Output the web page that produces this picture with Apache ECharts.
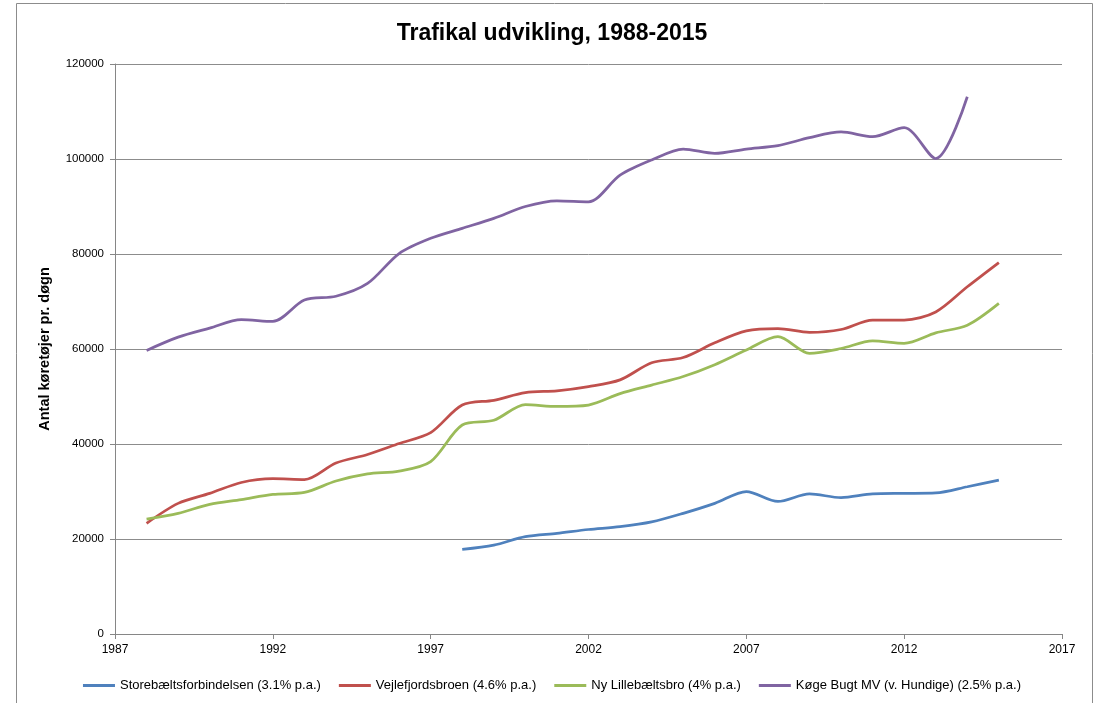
<!DOCTYPE html>
<html>
<head>
<meta charset="utf-8">
<script src="https://cdn.jsdelivr.net/npm/echarts@6/dist/echarts.min.js"></script>
<style>
html,body{margin:0;padding:0;background:#fff;}
#chart{width:1104px;height:703px;}
</style>
</head>
<body>
<div id="chart"></div>
<script>
const years = [1988,1989,1990,1991,1992,1993,1994,1995,1996,1997,1998,1999,2000,2001,2002,2003,2004,2005,2006,2007,2008,2009,2010,2011,2012,2013,2014,2015];
const storebaelt = [null,null,null,null,null,null,null,null,null,null,17800,18700,20500,21200,22000,22600,23600,25400,27500,30000,27900,29500,28700,29500,29600,29700,31000,32400];
const vejlefjord = [23300,27500,29600,31900,32700,32500,36000,37800,40100,42400,48200,49200,50800,51200,52100,53500,57100,58200,61300,63800,64300,63500,64100,66100,66100,67800,73100,78200];
const lillebaelt = [24200,25400,27300,28300,29400,29800,32200,33700,34300,36300,44000,45000,48300,47900,48200,50600,52400,54200,56700,59800,62600,59100,60100,61700,61200,63400,65000,69600];
const koegeBugt = [59700,62500,64400,66200,65800,70300,71100,73800,80100,83300,85400,87500,90000,91200,91000,96600,99800,102100,101200,102100,102800,104500,105700,104700,106600,100100,113100,null];
const seriesNames = ['Storebæltsforbindelsen (3.1% p.a.)','Vejlefjordsbroen (4.6% p.a.)','Ny Lillebæltsbro (4% p.a.)','Køge Bugt MV (v. Hundige) (2.5% p.a.)'];
const colors = ['#4F81BD','#C0504D','#9BBB59','#8064A2'];
const titleText = 'Trafikal udvikling, 1988-2015';
const yAxisName = 'Antal køretøjer pr. døgn';

function pairs(vals){
  const out = [];
  years.forEach((y,i)=>{ if(vals[i]!==null) out.push([y, vals[i]]); });
  return out;
}
const allVals = [storebaelt, vejlefjord, lillebaelt, koegeBugt];
const FONT = 'Liberation Sans';
const chart = echarts.init(document.getElementById('chart'), null, {renderer:'canvas'});
chart.setOption({
  backgroundColor:'#ffffff',
  animation:false,
  title:{
    text:titleText, left:'center', top:17,
    textStyle:{fontFamily:FONT, fontSize:23, fontWeight:'bold', color:'#000'}
  },
  graphic:[{
    type:'rect', silent:true,
    shape:{x:16.5, y:3.5, width:1076, height:760},
    style:{fill:null, stroke:'#8c8c8c', lineWidth:1}
  }],
  grid:{left:115, right:42, top:64, bottom:69, containLabel:false},
  legend:{
    bottom:6, left:'center',
    icon:'rect', itemWidth:32, itemHeight:3, itemGap:18,
    textStyle:{fontFamily:FONT, fontSize:13, color:'#000'},
    data:seriesNames
  },
  xAxis:{
    type:'value', min:1987, max:2017, interval:5,
    axisLine:{show:true, lineStyle:{color:'#868686', width:1}},
    axisTick:{show:true, length:5, lineStyle:{color:'#868686'}},
    splitLine:{show:false},
    axisLabel:{fontFamily:FONT, fontSize:12, color:'#000', margin:10, showMinLabel:true, showMaxLabel:true,
      formatter:(v)=>String(v)},
  },
  yAxis:{
    type:'value', min:0, max:120000, interval:20000,
    name:yAxisName, nameLocation:'middle', nameGap:63, nameRotate:90,
    nameTextStyle:{fontFamily:FONT, fontSize:14.5, fontWeight:'bold', color:'#000'},
    axisLine:{show:true, lineStyle:{color:'#868686', width:1}},
    axisTick:{show:true, length:5, lineStyle:{color:'#868686'}},
    splitLine:{show:true, lineStyle:{color:'#8c8c8c', width:1}},
    axisLabel:{fontFamily:FONT, fontSize:11.5, color:'#000', margin:11, formatter:(v)=>String(v)}
  },
  series: allVals.map((v,i)=>({
    name:seriesNames[i], type:'line', data:pairs(v),
    smooth:0.3, showSymbol:false, symbol:'none',
    lineStyle:{color:colors[i], width:2.75},
    itemStyle:{color:colors[i]}
  }))
});
</script>
</body>
</html>
